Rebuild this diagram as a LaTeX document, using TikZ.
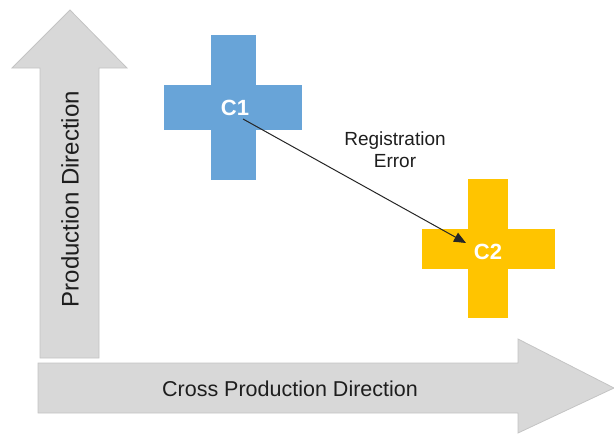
\documentclass[tikz,border=0pt]{standalone}
\usepackage{fontspec}
\setmainfont{Liberation Sans}
\usetikzlibrary{arrows.meta}
\definecolor{arrowgray}{RGB}{216,216,216}
\definecolor{arrowedge}{RGB}{196,196,196}
\definecolor{crossblue}{RGB}{104,164,216}
\definecolor{crossyellow}{RGB}{255,196,0}
\definecolor{textdark}{RGB}{30,30,30}
\tikzset{
  bigarrow/.style={fill=arrowgray, draw=arrowedge, line width=0.8pt},
  clabel/.style={text=white, font=\bfseries\fontsize{22}{24}\selectfont, inner sep=0pt},
  axislabel/.style={text=textdark, inner sep=0pt},
  errlabel/.style={text=textdark, font=\fontsize{19}{22}\selectfont, align=center, inner sep=0pt},
  errarrow/.style={-{Triangle[length=12pt,width=10pt]}, line width=1pt, black!85}
}
\begin{document}
\begin{tikzpicture}[x=1pt,y=-1pt]
\useasboundingbox (0,0) rectangle (614,434);
% vertical arrow
\draw[bigarrow] (40,358) -- (40,68) -- (12,68) -- (70,10) -- (127,68) -- (99,68) -- (99,358) -- cycle;
% horizontal arrow
\draw[bigarrow] (38,363) -- (518,363) -- (518,339) -- (614,388) -- (518,433) -- (518,413) -- (38,413) -- cycle;
\node[axislabel, rotate=90, font=\fontsize{24}{26}\selectfont] (pd) at (70,199) {Production Direction};
\node[axislabel, font=\fontsize{21.5}{24}\selectfont] (cpd) at (290,389) {Cross Production Direction};
% blue cross
\fill[crossblue] (211,35) rectangle (256,180);
\fill[crossblue] (164,85) rectangle (302,130);
% yellow cross
\fill[crossyellow] (468,179) rectangle (508,318);
\fill[crossyellow] (422,229) rectangle (555,269);
\node[clabel] (c1) at (235,108) {C1};
\node[clabel] (c2) at (488,252) {C2};
\node[errlabel] (err) at (395,150) {Registration\\Error};
\coordinate (s) at (243,119);
\coordinate (e) at (466,243);
\draw[errarrow] (s) -- (e);
\end{tikzpicture}
\end{document}
